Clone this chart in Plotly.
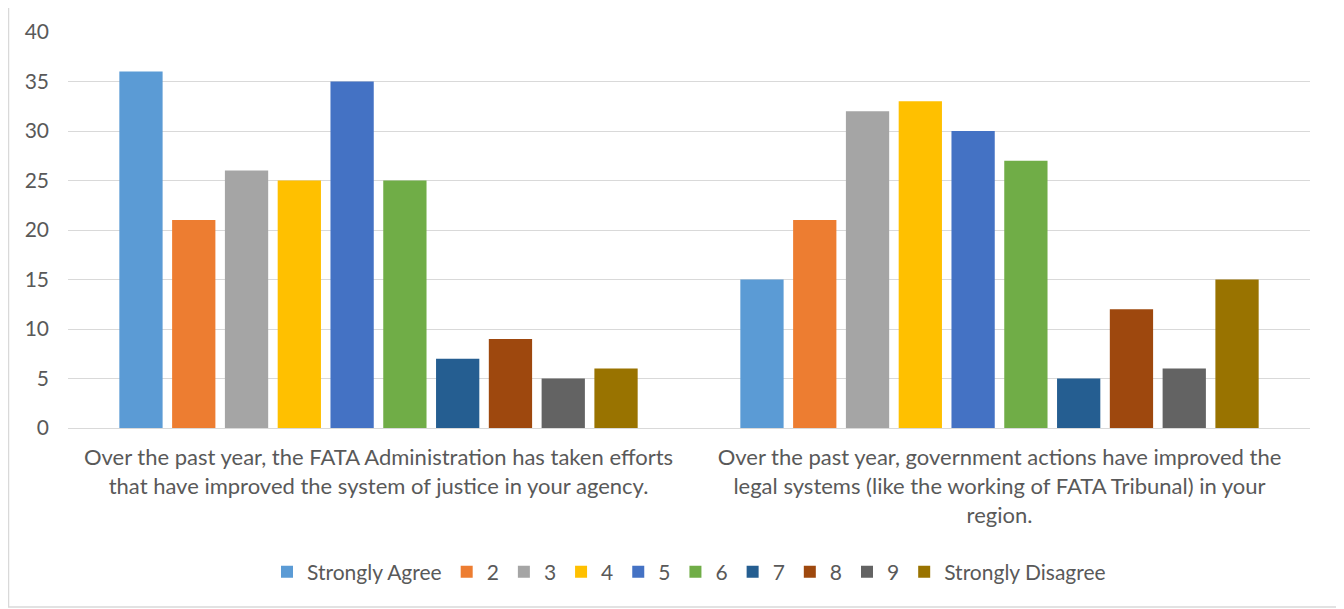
import plotly.graph_objects as go

categories = [
    "Over the past year, the FATA Administration has taken efforts<br>that have improved the system of justice in your agency.",
    "Over the past year, government actions have improved the<br>legal systems (like the working of FATA Tribunal) in your<br>region.",
]
series_names = ["Strongly Agree", "2", "3", "4", "5", "6", "7", "8", "9", "Strongly Disagree"]
values = [
    [36, 15],
    [21, 21],
    [26, 32],
    [25, 33],
    [35, 30],
    [25, 27],
    [7, 5],
    [9, 12],
    [5, 6],
    [6, 15],
]
colors = ["#5B9BD5", "#ED7D31", "#A5A5A5", "#FFC000", "#4472C4",
          "#70AD47", "#255E91", "#9E480E", "#636363", "#997300"]
y_ticks = [0, 5, 10, 15, 20, 25, 30, 35, 40]

fig = go.Figure()
for name, vals, c in zip(series_names, values, colors):
    fig.add_trace(go.Bar(x=categories, y=vals, name=name, marker_color=c,
                         marker_line_width=0))

font_family = "Lato"
# page body has an 8px margin, so the figure is drawn 8px in from the window edge
W, H = 1336, 601
L, T = 60, 24
pw, ph = 1242, 396
R, B = W - L - pw, H - T - ph
bottom = T + ph

fig.update_layout(
    width=W, height=H,
    margin=dict(l=L, r=R, t=T, b=B, autoexpand=False),
    paper_bgcolor="white", plot_bgcolor="white",
    barmode="group", bargap=0.15, bargroupgap=0.18,
    font=dict(family=font_family, color="#595959", size=22),
    showlegend=True,
    legend=dict(orientation="h", x=0.5, xanchor="center",
                y=(bottom - 564) / ph, yanchor="middle",
                font=dict(family=font_family, size=21, color="#595959"), itemwidth=30,
                traceorder="normal"),
    xaxis=dict(showgrid=False, showline=True, linecolor="#D9D9D9", linewidth=1,
               ticks="", automargin=False, ticklabelstandoff=10,
               tickfont=dict(family=font_family, size=22, color="#595959")),
    yaxis=dict(range=[0, 40], tickvals=y_ticks, showgrid=True, gridcolor="#D9D9D9",
               gridwidth=1, zeroline=False, showline=False, ticks="", automargin=False,
               tickfont=dict(family=font_family, size=21, color="#595959"),
               ticklabelstandoff=18),
)
fig.add_shape(type="rect", xref="paper", yref="paper",
              x0=(0.5 - L) / pw, x1=(1330 - L) / pw,
              y0=(bottom - 599) / ph, y1=(bottom + 40) / ph,
              line=dict(color="#D9D9D9", width=1.5), layer="below")
fig.write_html("out.html")
